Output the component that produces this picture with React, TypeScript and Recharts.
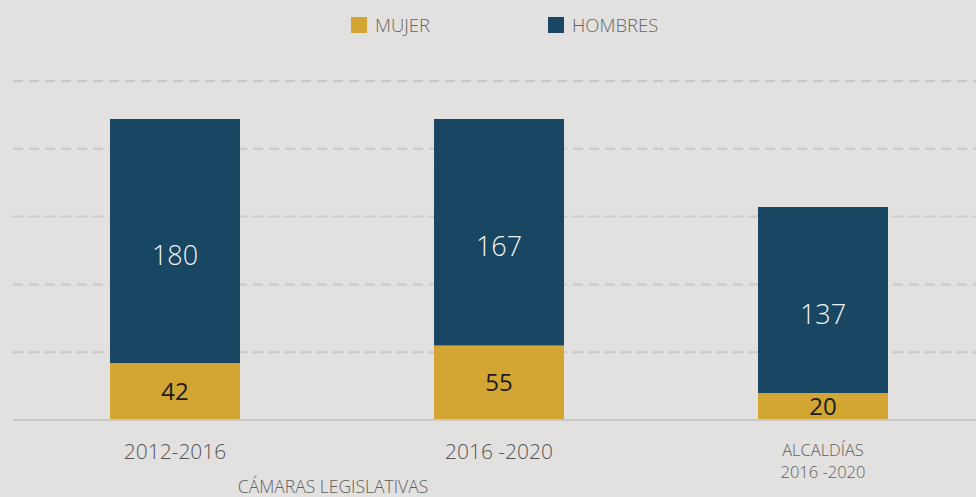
import React from 'react';
import { BarChart, Bar, XAxis, YAxis, CartesianGrid, LabelList } from 'recharts';

const categories = ['2012-2016', '2016 -2020', 'ALCALDÍAS\n2016 -2020'];
const mujer = [42, 55, 20];
const hombres = [180, 167, 137];
const yTicks = [0, 50, 100, 150, 200, 250];
const groupLabel = 'CÁMARAS LEGISLATIVAS';
const seriesNames = ['MUJER', 'HOMBRES'];

const GOLD = '#D3A532';
const NAVY = '#184663';
const BG = '#e2e1e0';
const GRID = '#c9c8c7';
const FONT = '"Open Sans", "Noto Sans", sans-serif';

const data = categories.map((c, i) => ({ cat: c, mujer: mujer[i], hombres: hombres[i] }));

const Tick = (props: any) => {
  const { x, y, payload, index } = props;
  const lines = String(payload.value).split('\n');
  return (
    <g>
      {lines.length > 1 ? (
        <text x={x} y={y} textAnchor="middle" fill="#5f5f5f" fontSize={16.5} fontFamily={FONT} fontWeight={300}>
          {lines.map((l: string, i: number) => (
            <tspan key={i} x={x} dy={i === 0 ? 36 : 22}>{l}</tspan>
          ))}
        </text>
      ) : (
        <text x={x} y={y + 39} textAnchor="middle" fill="#555" fontSize={21} fontFamily={FONT} fontWeight={300}>
          {lines[0]}
        </text>
      )}
      {index === 0 && (
        <text x={x + 158} y={y + 73} textAnchor="middle" fill="#5f5f5f" fontSize={17.5} fontFamily={FONT} fontWeight={300}>
          {groupLabel}
        </text>
      )}
    </g>
  );
};

export default function App() {
  return (
    <div style={{ position: 'absolute', left: 0, top: 0, width: 976, height: 497, overflow: 'hidden', background: BG }}>
      <div style={{ position: 'absolute', left: 293, top: -1, width: 366, height: 164, border: '1px solid rgba(255,255,255,0.18)', boxSizing: 'border-box' }} />
      <div style={{ position: 'absolute', left: 0, top: 0 }}>
        <BarChart width={1000} height={497} data={data} margin={{ top: 81, right: 15, left: 13, bottom: 47 }}>
          <CartesianGrid vertical={false} stroke={GRID} strokeWidth={2} strokeDasharray="10 6" />
          <YAxis hide domain={[0, 250]} ticks={yTicks} />
          <XAxis
            dataKey="cat"
            height={30}
            axisLine={{ stroke: GRID, strokeWidth: 2 }}
            tickLine={false}
            tickSize={0}
            tickMargin={0}
            interval={0}
            tick={<Tick />}
          />
          <Bar dataKey="mujer" stackId="a" fill={GOLD} barSize={130} isAnimationActive={false}>
            <LabelList dataKey="mujer" position="center" fill="#1c1c1c" fontSize={24} fontFamily={FONT} fontWeight={500} />
          </Bar>
          <Bar dataKey="hombres" stackId="a" fill={NAVY} barSize={130} isAnimationActive={false}>
            <LabelList dataKey="hombres" position="center" fill="#f2f2f2" fontSize={27} fontFamily={FONT} fontWeight={300} dy={14} />
          </Bar>
        </BarChart>
      </div>
      <div style={{ position: 'absolute', left: 351, top: 17, display: 'flex', alignItems: 'center', fontFamily: FONT, fontSize: 18.5, fontWeight: 300, color: '#666' }}>
        <span style={{ width: 16, height: 16, background: GOLD, display: 'inline-block' }} />
        <span style={{ marginLeft: 8, lineHeight: '16px' }}>{seriesNames[0]}</span>
      </div>
      <div style={{ position: 'absolute', left: 548, top: 17, display: 'flex', alignItems: 'center', fontFamily: FONT, fontSize: 18.5, fontWeight: 300, color: '#666' }}>
        <span style={{ width: 16, height: 16, background: NAVY, display: 'inline-block' }} />
        <span style={{ marginLeft: 8, lineHeight: '16px' }}>{seriesNames[1]}</span>
      </div>
    </div>
  );
}
